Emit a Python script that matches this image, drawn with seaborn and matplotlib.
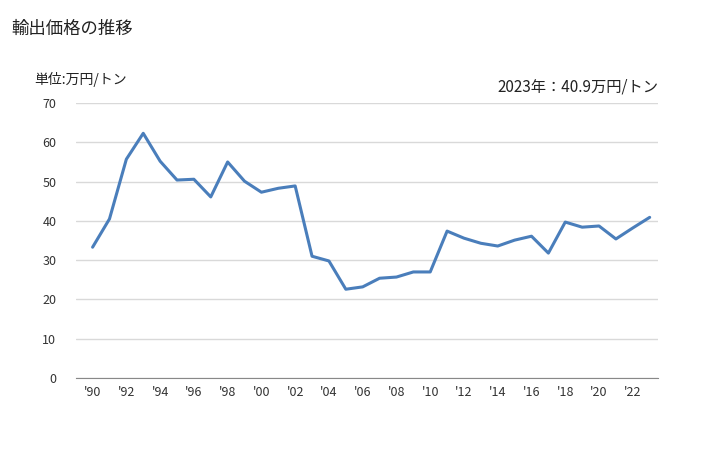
import matplotlib
matplotlib.use("Agg")
import matplotlib.pyplot as plt
import seaborn as sns
import pandas as pd

# 輸出価格 (万円/トン)
years = list(range(1990, 2024))
prices = [33.3, 40.5, 55.7, 62.3, 55.2, 50.4, 50.6, 46.1, 55.0, 50.1,
          47.3, 48.3, 48.9, 31.0, 29.8, 22.6, 23.2, 25.4, 25.7, 27.0,
          27.0, 37.4, 35.6, 34.3, 33.6, 35.1, 36.1, 31.8, 39.7, 38.4,
          38.7, 35.4, 38.2, 40.9]
tick_years = list(range(1990, 2023, 2))
tick_labels = ["'" + str(y)[2:] for y in tick_years]
y_ticks = [0, 10, 20, 30, 40, 50, 60, 70]

df = pd.DataFrame({"year": years, "price": prices})

sns.set_style("white")
plt.rcParams["font.family"] = ["Noto Sans CJK JP", "DejaVu Sans"]

fig = plt.figure(figsize=(7.28, 4.5), dpi=100)
ax = fig.add_axes([0.104, 0.16, 0.8, 0.611])

sns.lineplot(data=df, x="year", y="price", ax=ax, color="#4a7ebb", linewidth=2.2)

ax.set_xlim(1989, 2023.5)
ax.set_ylim(0, 70)
ax.set_yticks(y_ticks)
ax.set_xticks(tick_years)
ax.set_xticklabels(tick_labels)
ax.tick_params(axis="both", labelsize=9, length=0, colors="#333333")
ax.tick_params(axis="y", pad=14)
ax.tick_params(axis="x", pad=6)
ax.grid(axis="y", color="#d9d9d9", linewidth=1)
ax.set_axisbelow(True)
for side in ["top", "right", "left"]:
    ax.spines[side].set_visible(False)
ax.spines["bottom"].set_color("#888888")
ax.set_xlabel("")
ax.set_ylabel("")

fig.text(0.016, 0.935, "輸出価格の推移", fontsize=12.5, color="#222222", va="center")
fig.text(0.047, 0.823, "単位:万円/トン", fontsize=10, color="#222222", va="center")
fig.text(0.904, 0.807, "2023年：40.9万円/トン", fontsize=11, color="#222222",
         va="center", ha="right")

fig.savefig("out.png", dpi=100)
